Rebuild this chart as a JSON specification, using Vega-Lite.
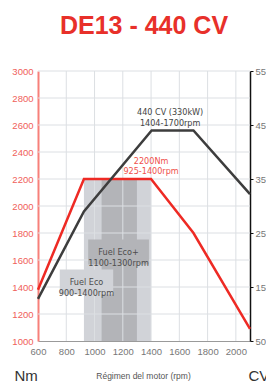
{
  "$schema": "https://vega.github.io/schema/vega-lite/v6.json",
  "width": 212,
  "height": 270,
  "autosize": {"type": "none"},
  "padding": {"left": 38, "top": 71, "right": 16, "bottom": 40},
  "title": {
    "text": "DE13 - 440 CV",
    "font": "Liberation Sans",
    "fontSize": 25,
    "fontWeight": "bold",
    "color": "#e8302a",
    "anchor": "middle",
    "baseline": "alphabetic",
    "offset": 7
  },
  "datasets": {
    "bands": [
      {"zone": "Fuel Eco", "rpm": 925, "rpm_end": 1400, "nm": 1000, "nm_end": 2200},
      {"zone": "Fuel Eco+", "rpm": 1050, "rpm_end": 1300, "nm": 1000, "nm_end": 2200}
    ],
    "vgrid": [{"rpm": 800}, {"rpm": 1000}, {"rpm": 1200}, {"rpm": 1400}, {"rpm": 1600}, {"rpm": 1800}, {"rpm": 2000}],
    "hgrid": [{"nm": 1200}, {"nm": 1400}, {"nm": 1600}, {"nm": 1800}, {"nm": 2000}, {"nm": 2200}, {"nm": 2400}, {"nm": 2600}, {"nm": 2800}, {"nm": 3000}],
    "boxes": [
      {"zone": "Fuel Eco", "label": "Fuel Eco\n900-1400rpm", "rpm": 754, "rpm_end": 1132, "nm": 1344, "nm_end": 1530, "rpm_mid": 943, "nm_mid": 1437},
      {"zone": "Fuel Eco+", "label": "Fuel Eco+\n1100-1300rpm", "rpm": 955, "rpm_end": 1385, "nm": 1567, "nm_end": 1752, "rpm_mid": 1170, "nm_mid": 1660}
    ],
    "torque": [
      {"rpm": 600, "nm": 1380},
      {"rpm": 925, "nm": 2200},
      {"rpm": 1400, "nm": 2200},
      {"rpm": 1700, "nm": 1800},
      {"rpm": 2100, "nm": 1090}
    ],
    "torque_label": [{"rpm": 1400, "nm": 2335, "label": "2200Nm\n925-1400rpm"}],
    "power": [
      {"rpm": 600, "cv": 128},
      {"rpm": 925, "cv": 290},
      {"rpm": 1404, "cv": 440},
      {"rpm": 1700, "cv": 440},
      {"rpm": 2100, "cv": 322}
    ],
    "power_label": [{"rpm": 1535, "cv": 475, "label": "440 CV (330kW)\n1404-1700rpm"}]
  },
  "layer": [
    {
      "layer": [
        {
          "data": {"name": "bands"},
          "mark": {"type": "rect"},
          "encoding": {
            "x": {"field": "rpm", "type": "quantitative", "scale": {"domain": [600, 2100], "nice": false, "zero": false}},
            "x2": {"field": "rpm_end"},
            "y": {"field": "nm", "type": "quantitative", "scale": {"domain": [1000, 3000], "nice": false, "zero": false}},
            "y2": {"field": "nm_end"},
            "color": {"field": "zone", "type": "nominal", "scale": {"domain": ["Fuel Eco", "Fuel Eco+"], "range": ["#d1d3d8", "#b3b4b8"]}, "legend": null}
          }
        },
        {
          "data": {"name": "vgrid"},
          "mark": {"type": "rule", "color": "#dcdfe3", "strokeWidth": 1},
          "encoding": {"x": {"field": "rpm", "type": "quantitative"}}
        },
        {
          "data": {"name": "hgrid"},
          "mark": {"type": "rule", "color": "#dcdfe3", "strokeWidth": 1},
          "encoding": {"y": {"field": "nm", "type": "quantitative"}}
        },
        {
          "data": {"name": "boxes"},
          "mark": {"type": "rect"},
          "encoding": {
            "x": {"field": "rpm", "type": "quantitative"},
            "x2": {"field": "rpm_end"},
            "y": {"field": "nm", "type": "quantitative"},
            "y2": {"field": "nm_end"},
            "color": {"field": "zone", "type": "nominal", "scale": {"domain": ["Fuel Eco", "Fuel Eco+"], "range": ["#c8cacf", "#a7a8ac"]}, "legend": null}
          }
        },
        {
          "data": {"name": "boxes"},
          "mark": {"type": "text", "lineBreak": "\n", "lineHeight": 11, "font": "Liberation Sans Narrow, DejaVu Sans Condensed, sans-serif", "fontSize": 9, "color": "#4d4d4d", "align": "center", "baseline": "middle"},
          "encoding": {
            "x": {"field": "rpm_mid", "type": "quantitative"},
            "y": {"field": "nm_mid", "type": "quantitative"},
            "text": {"field": "label"}
          }
        },
        {
          "data": {"name": "torque"},
          "mark": {"type": "line", "color": "#ee2a24", "strokeWidth": 2.5},
          "encoding": {
            "x": {
              "field": "rpm", "type": "quantitative",
              "axis": {
                "title": "Régimen del motor (rpm)",
                "tickCount": 8,
                "format": "d", "labelOverlap": false, "labelFlush": false,
                "grid": false, "ticks": false,
                "domainColor": "#9a9a9a", "domainWidth": 1,
                "labelColor": "#777777", "labelFont": "Liberation Sans", "labelFontSize": 9.5, "labelPadding": 5,
                "titleFont": "Liberation Sans", "titleFontSize": 8.5, "titleFontWeight": "normal", "titleColor": "#555555",
                "titleX": 105, "titleY": 37, "titleBaseline": "alphabetic", "titleAlign": "center"
              }
            },
            "y": {
              "field": "nm", "type": "quantitative",
              "axis": {
                "title": "Nm",
                "tickCount": 10,
                "format": "d", "labelOverlap": false, "labelFlush": false,
                "grid": false, "ticks": false,
                "domainColor": "#f7807a", "domainWidth": 2,
                "labelColor": "#f0605a", "labelFont": "Liberation Sans", "labelFontSize": 9.5, "labelPadding": 5,
                "titleFont": "Liberation Sans", "titleFontSize": 15, "titleFontWeight": "normal", "titleColor": "#333333",
                "titleAngle": 0, "titleX": -24, "titleY": 309, "titleAlign": "left", "titleBaseline": "alphabetic"
              }
            }
          }
        },
        {
          "data": {"name": "torque_label"},
          "mark": {"type": "text", "lineBreak": "\n", "lineHeight": 10.5, "font": "Liberation Sans Narrow, DejaVu Sans Condensed, sans-serif", "fontSize": 9, "color": "#f0504a", "align": "center", "baseline": "middle"},
          "encoding": {
            "x": {"field": "rpm", "type": "quantitative"},
            "y": {"field": "nm", "type": "quantitative"},
            "text": {"field": "label"}
          }
        }
      ]
    },
    {
      "layer": [
        {
          "data": {"name": "power"},
          "mark": {"type": "line", "color": "#3d3d3d", "strokeWidth": 2.5},
          "encoding": {
            "x": {"field": "rpm", "type": "quantitative"},
            "y": {
              "field": "cv", "type": "quantitative",
              "scale": {"domain": [50, 550], "nice": false, "zero": false},
              "axis": {
                "orient": "right",
                "title": "CV",
                "values": [50, 100, 150, 200, 250, 300, 350, 400, 450, 500, 550],
                "format": "d", "labelOverlap": false, "labelFlush": false,
                "grid": false, "ticks": true, "tickSize": 3, "tickColor": "#111111", "tickWidth": 1,
                "domainColor": "#111111", "domainWidth": 1.5,
                "labelColor": "#777777", "labelFont": "Liberation Sans", "labelFontSize": 9.5, "labelPadding": 2,
                "titleFont": "Liberation Sans", "titleFontSize": 15, "titleFontWeight": "normal", "titleColor": "#333333",
                "titleAngle": 0, "titleX": -2, "titleY": 309, "titleAlign": "left", "titleBaseline": "alphabetic"
              }
            }
          }
        },
        {
          "data": {"name": "power_label"},
          "mark": {"type": "text", "lineBreak": "\n", "lineHeight": 11, "font": "Liberation Sans Narrow, DejaVu Sans Condensed, sans-serif", "fontSize": 9, "color": "#444444", "align": "center", "baseline": "middle"},
          "encoding": {
            "x": {"field": "rpm", "type": "quantitative"},
            "y": {"field": "cv", "type": "quantitative"},
            "text": {"field": "label"}
          }
        }
      ]
    }
  ],
  "resolve": {"scale": {"y": "independent", "color": "independent"}},
  "config": {
    "view": {"stroke": null},
    "background": "white",
    "axis": {"labelOverlap": false, "labelFlush": false}
  }
}
